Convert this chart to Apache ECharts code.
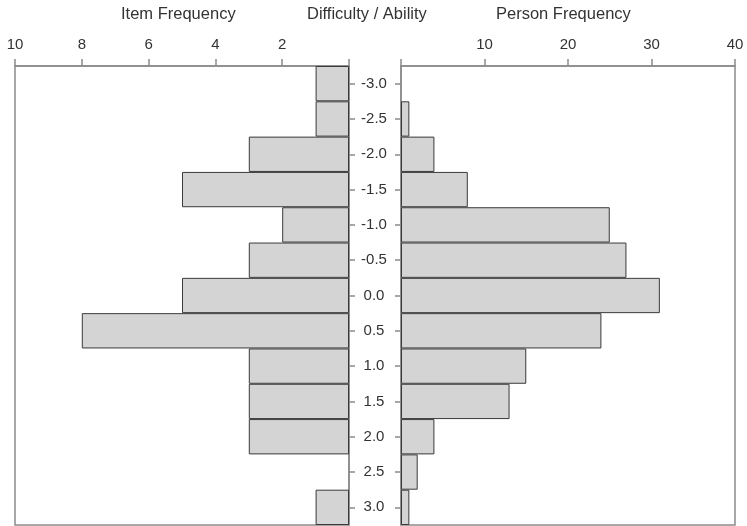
<!DOCTYPE html>
<html>
<head>
<meta charset="utf-8">
<script src="https://cdn.jsdelivr.net/npm/echarts@6/dist/echarts.min.js"></script>
<style>
  html, body { margin: 0; padding: 0; background: #fff; }
  #chart { width: 747px; height: 526px; }
</style>
</head>
<body>
<div id="chart"></div>
<script>
// Logit scale shared by items (difficulty) and persons (ability)
var levels = ['-3.0', '-2.5', '-2.0', '-1.5', '-1.0', '-0.5', '0.0', '0.5', '1.0', '1.5', '2.0', '2.5', '3.0'];
// Number of items at each difficulty level
var itemFreq = [1, 1, 3, 5, 2, 3, 5, 8, 3, 3, 3, 0, 1];
// Number of persons at each ability level
var personFreq = [0, 1, 4, 8, 25, 27, 31, 24, 15, 13, 4, 2, 1];

var font = 'Liberation Sans, Arial, Helvetica, sans-serif';
var textColor = '#333';
var frameColor = '#8a8a8a';
var barFill = '#d4d4d4';
var barEdge = '#3a3a3a';

function toBars(arr) {
  // empty bins are left undrawn
  return arr.map(function (v) { return v === 0 ? '-' : v; });
}

var chart = echarts.init(document.getElementById('chart'), null, { renderer: 'canvas' });

chart.setOption({
  animation: false,
  backgroundColor: '#fff',
  textStyle: { fontFamily: font },
  grid: [
    { left: 15, top: 66, width: 334, height: 459, show: true, borderColor: frameColor, borderWidth: 1.5, backgroundColor: 'transparent' },
    { left: 401, top: 66, width: 334, height: 459, show: true, borderColor: frameColor, borderWidth: 1.5, backgroundColor: 'transparent' }
  ],
  xAxis: [
    {
      gridIndex: 0, type: 'value', inverse: true, position: 'top',
      min: 0, max: 10, interval: 2,
      axisLine: { show: true, lineStyle: { color: frameColor, width: 1.5 } },
      axisTick: { show: true, length: 7, lineStyle: { color: frameColor, width: 1.5 } },
      axisLabel: {
        color: textColor, fontSize: 15, fontFamily: font, margin: 14,
        formatter: function (v) { return v === 0 ? '' : String(v); }
      },
      splitLine: { show: false }
    },
    {
      gridIndex: 1, type: 'value', position: 'top',
      min: 0, max: 40, interval: 10,
      axisLine: { show: true, lineStyle: { color: frameColor, width: 1.5 } },
      axisTick: { show: true, length: 7, lineStyle: { color: frameColor, width: 1.5 } },
      axisLabel: {
        color: textColor, fontSize: 15, fontFamily: font, margin: 14,
        formatter: function (v) { return v === 0 ? '' : String(v); }
      },
      splitLine: { show: false }
    }
  ],
  yAxis: [
    {
      gridIndex: 0, type: 'category', data: levels, inverse: true, position: 'right',
      axisLine: { show: true, lineStyle: { color: frameColor, width: 1.5 } },
      axisTick: { show: true, alignWithLabel: true, length: 6, lineStyle: { color: frameColor, width: 1.5 } },
      axisLabel: { show: true, color: textColor, fontSize: 15, fontFamily: font, margin: 25, align: 'center' }
    },
    {
      gridIndex: 1, type: 'category', data: levels, inverse: true, position: 'left',
      axisLine: { show: true, lineStyle: { color: frameColor, width: 1.5 } },
      axisTick: { show: true, alignWithLabel: true, length: 6, lineStyle: { color: frameColor, width: 1.5 } },
      axisLabel: { show: false }
    }
  ],
  series: [
    {
      type: 'bar', name: 'Item Frequency', xAxisIndex: 0, yAxisIndex: 0,
      data: toBars(itemFreq), barWidth: '100%', barCategoryGap: 0,
      itemStyle: { color: barFill, borderColor: barEdge, borderWidth: 1 }
    },
    {
      type: 'bar', name: 'Person Frequency', xAxisIndex: 1, yAxisIndex: 1,
      data: toBars(personFreq), barWidth: '100%', barCategoryGap: 0,
      itemStyle: { color: barFill, borderColor: barEdge, borderWidth: 1 }
    }
  ],
  graphic: [
    { type: 'text', left: 121, top: 6, style: { text: 'Item Frequency', font: '16.5px ' + font, fill: textColor } },
    { type: 'text', left: 307, top: 6, style: { text: 'Difficulty / Ability', font: '16.5px ' + font, fill: textColor } },
    { type: 'text', left: 496, top: 6, style: { text: 'Person Frequency', font: '16.5px ' + font, fill: textColor } }
  ]
});
</script>
</body>
</html>
